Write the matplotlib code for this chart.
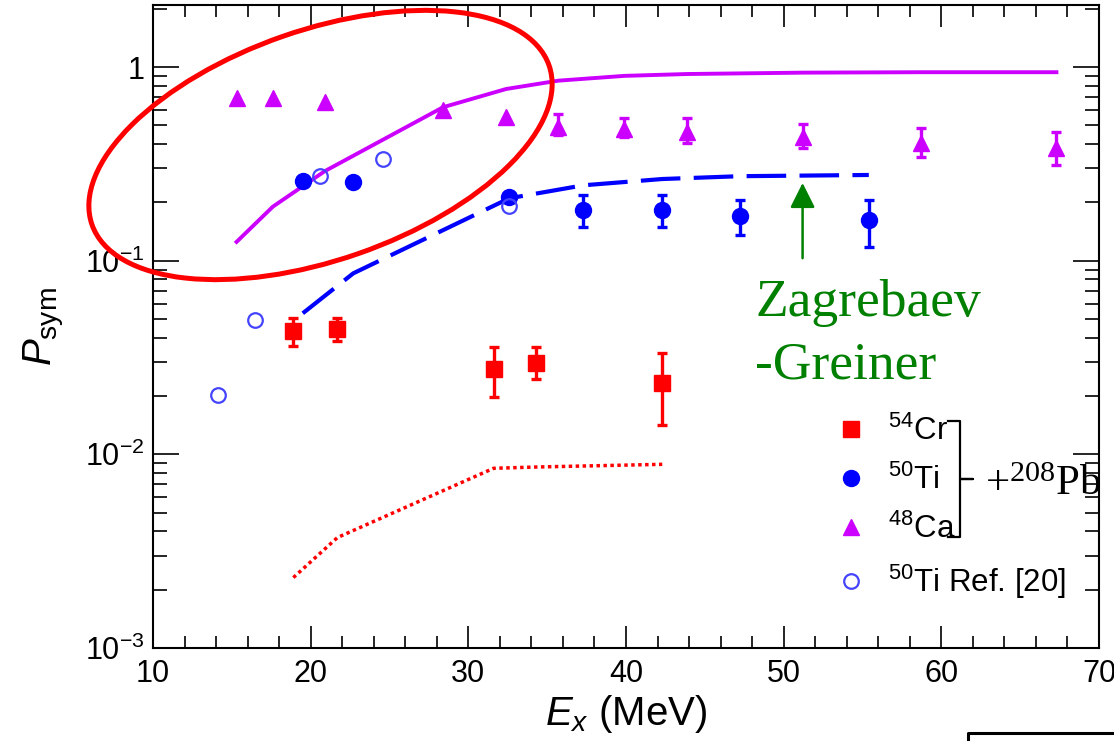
import matplotlib
matplotlib.use("Agg")
import matplotlib.pyplot as plt
from matplotlib.lines import Line2D
from matplotlib.patches import Ellipse
from matplotlib.ticker import FixedLocator, FuncFormatter
import numpy as np

plt.rcParams['font.family'] = ['Liberation Sans', 'DejaVu Sans']
plt.rcParams['mathtext.default'] = 'regular'
plt.rcParams['mathtext.fontset'] = 'custom'
plt.rcParams['mathtext.rm'] = 'Liberation Sans'
plt.rcParams['mathtext.it'] = 'Liberation Sans:italic'

# --- data ---
# 48Ca + 208Pb
ca_E = [15.3, 17.6, 20.9, 28.4, 32.4, 35.7, 39.9, 43.9, 51.2, 58.7, 67.3]
ca_P = [0.69, 0.69, 0.66, 0.60, 0.55, 0.49, 0.48, 0.46, 0.435, 0.405, 0.38]
ca_lo = [0.69, 0.69, 0.66, 0.60, 0.55, 0.445, 0.435, 0.405, 0.38, 0.343, 0.312]
ca_hi = [0.69, 0.69, 0.66, 0.60, 0.55, 0.57, 0.545, 0.545, 0.51, 0.484, 0.461]
ca_zg = [0.125, 0.19, 0.29, 0.62, 0.77, 0.85, 0.90, 0.92, 0.935, 0.94, 0.94]

# 50Ti + 208Pb
ti_E = [19.5, 22.7, 32.6, 37.3, 42.3, 47.2, 55.4]
ti_P = [0.257, 0.255, 0.213, 0.182, 0.182, 0.170, 0.162]
ti_lo = [0.257, 0.255, 0.213, 0.149, 0.149, 0.135, 0.117]
ti_hi = [0.257, 0.255, 0.213, 0.218, 0.218, 0.205, 0.205]
ti_zg = [0.0535, 0.086, 0.21, 0.245, 0.264, 0.273, 0.277]

# 50Ti Ref. [20]
tiref_E = [14.1, 16.5, 20.6, 24.6, 32.6]
tiref_P = [0.0202, 0.0493, 0.273, 0.335, 0.191]

# 54Cr + 208Pb
cr_E = [18.9, 21.7, 31.6, 34.3, 42.3]
cr_P = [0.0432, 0.0443, 0.0275, 0.0295, 0.0233]
cr_lo = [0.0362, 0.0384, 0.0197, 0.0244, 0.0141]
cr_hi = [0.0505, 0.0505, 0.0357, 0.0357, 0.0333]
cr_zg = [0.00231, 0.00372, 0.00847, 0.0086, 0.00888]

ytick_vals = [1e-3, 1e-2, 1e-1, 1]
xtick_vals = [10, 20, 30, 40, 50, 60, 70]

CA = '#cc00ff'
TI = '#0000ff'
CR = '#ff0000'
GREEN = '#008000'

W, H = 1114, 741
fig = plt.figure(figsize=(W / 100, H / 100), dpi=100)
ax = fig.add_axes([153 / W, 1 - 648 / H, (1099 - 153) / W, (648 - 5) / H])


def draw_points(E, P, lo, hi, color, marker, ms):
    E, P, lo, hi = map(np.asarray, (E, P, lo, hi))
    has_err = hi > P
    ax.errorbar(E[has_err], P[has_err], yerr=[P[has_err] - lo[has_err], hi[has_err] - P[has_err]],
                fmt='none', ecolor=color, elinewidth=2.4, capsize=3.3, capthick=2.4, zorder=4)
    ax.plot(E, P, ls='none', marker=marker, color=color, ms=ms, zorder=5)


# theory curves
ax.plot(ca_E, ca_zg, color=CA, lw=2.8, zorder=3)
ax.plot(ti_E, ti_zg, color=TI, lw=3, dashes=(9.5, 3.2), zorder=3)
ax.plot(cr_E, cr_zg, color=CR, lw=2.5, dashes=(1, 1), zorder=3)

draw_points(ca_E, ca_P, ca_lo, ca_hi, CA, '^', 11.5)
draw_points(ti_E, ti_P, ti_lo, ti_hi, TI, 'o', 11.5)
draw_points(cr_E, cr_P, cr_lo, cr_hi, CR, 's', 12)
ax.plot(tiref_E, tiref_P, ls='none', marker='o', mfc='none', mec='#4444ff', mew=1.6, ms=10.5, zorder=5)

ax.set_yscale('log')
ax.set_xlim(10, 70)
ax.set_ylim(1e-3, 2.09)

ax.xaxis.set_major_locator(FixedLocator(xtick_vals))
ax.xaxis.set_minor_locator(FixedLocator(np.arange(10, 71, 2)))
ax.yaxis.set_major_locator(FixedLocator(ytick_vals))
ax.yaxis.set_major_formatter(FuncFormatter(
    lambda v, p: '1' if abs(v - 1) < 1e-9 else r'$10^{%d}$' % round(np.log10(v))))
ax.yaxis.set_minor_formatter(FuncFormatter(lambda v, p: ''))

ax.tick_params(axis='both', which='both', direction='in', top=True, right=True,
               width=1.2, labelsize=22, color='black')
ax.tick_params(axis='x', which='major', length=16, pad=8)
ax.tick_params(axis='x', which='minor', length=8.5)
ax.tick_params(axis='y', which='major', length=19, pad=6)
ax.tick_params(axis='y', which='minor', length=10)
for s in ax.spines.values():
    s.set_linewidth(1.5)

ax.set_xlabel(r'$\mathit{E}_{\mathit{x}}$ (MeV)', fontsize=29, labelpad=3)
ax.set_ylabel(r'$\mathit{P}_{\mathrm{sym}}$', fontsize=29, labelpad=14)

# arrow + label for the theory
ax.annotate('', xy=(51.2, 0.252), xytext=(51.2, 0.103),
            arrowprops=dict(arrowstyle='-|>', color=GREEN, lw=1.8, mutation_scale=38,
                            shrinkA=0, shrinkB=0))
fig.text(755 / W, 1 - 279 / H, 'Zagrebaev\n-Greiner', color=GREEN, fontsize=38.5,
         family='Liberation Serif', va='top', ha='left', linespacing=1.4)

# legend
handles = [
    Line2D([], [], ls='none', marker='s', color=CR, ms=12),
    Line2D([], [], ls='none', marker='o', color=TI, ms=11.5),
    Line2D([], [], ls='none', marker='^', color=CA, ms=11.5),
    Line2D([], [], ls='none', marker='o', mfc='none', mec='#4444ff', mew=1.6, ms=10.5),
]
labels = [r'$^{54}$Cr', r'$^{50}$Ti', r'$^{48}$Ca', r'$^{50}$Ti Ref. [20]']
ax.legend(handles, labels, loc='upper left', bbox_to_anchor=(832 / W, 1 - 416 / H),
          bbox_transform=fig.transFigure, frameon=False, fontsize=22.5,
          handlelength=1.2, handletextpad=0.6, labelspacing=0.56, borderpad=0,
          borderaxespad=0)

# bracket for +208Pb
bx = np.array([948, 960, 960, 973, 960, 960, 948])
by = np.array([421, 421, 479, 479, 479, 537, 537])
fig.add_artist(Line2D(bx / W, 1 - by / H, color='black', lw=1.6, transform=fig.transFigure))
fig.text(985 / W, 1 - 495 / H, r'+$^{208}$Pb', fontsize=31, family='Liberation Serif',
         va='baseline', ha='left')

# red ellipse highlight
fig.add_artist(Ellipse((3.205, (H - 145) / 100), 4.84, 2.30, angle=19.2, fill=False,
                       ec=CR, lw=3.6, transform=fig.dpi_scale_trans))

# corner of the neighbouring panel
fig.add_artist(Line2D(np.array([968, 968, 1114]) / W, 1 - np.array([741, 733, 733]) / H,
                      color='black', lw=2.2, transform=fig.transFigure))

fig.savefig('out.png', dpi=100)
